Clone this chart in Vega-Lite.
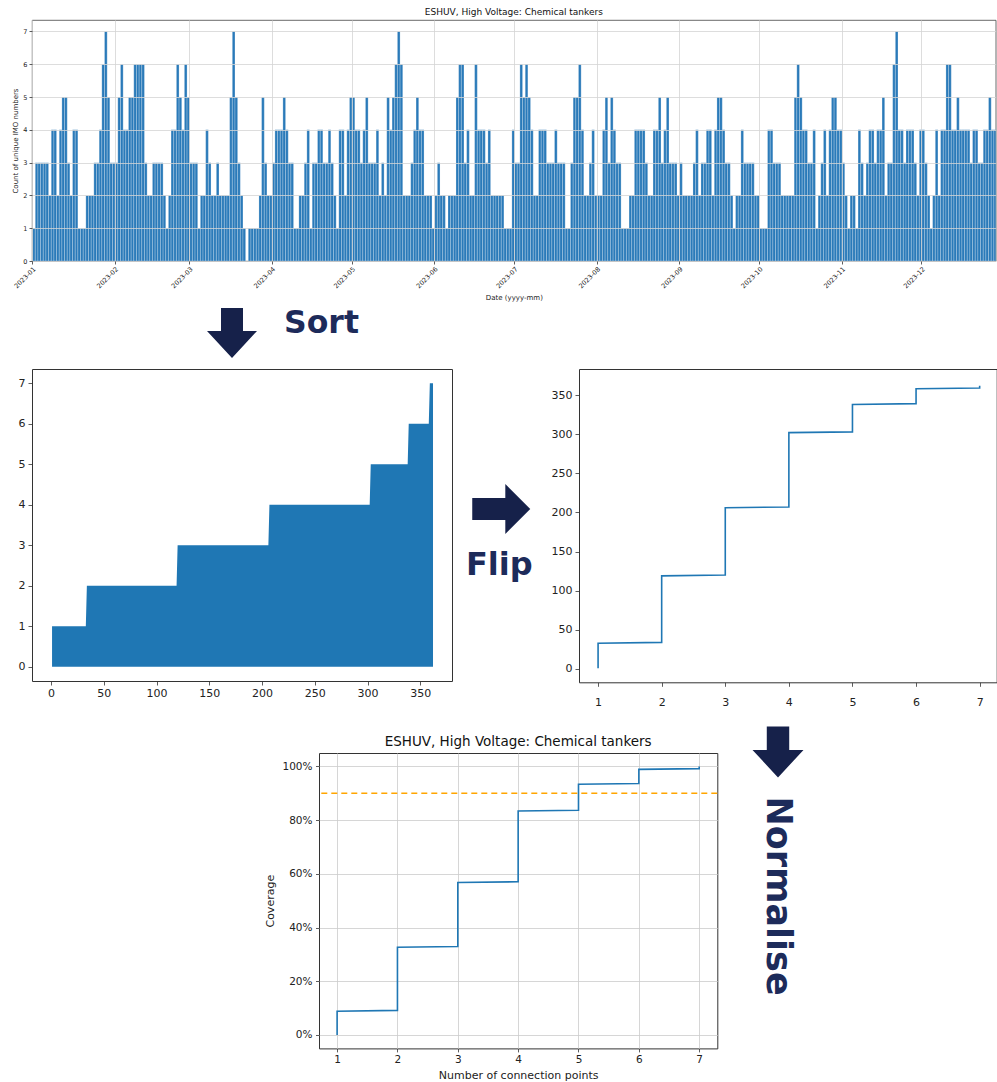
{
"$schema": "https://vega.github.io/schema/vega-lite/v6.json",
"background": "white",
"padding": {"left": 11, "top": 7, "right": 0, "bottom": 0},
"spacing": 0,
"datasets": {"daily": [
{"date":"2023-01-01","n":1},{"date":"2023-01-02","n":3},{"date":"2023-01-03","n":3},{"date":"2023-01-04","n":3},{"date":"2023-01-05","n":3},{"date":"2023-01-06","n":3},{"date":"2023-01-07","n":2},{"date":"2023-01-08","n":4},{"date":"2023-01-09","n":4},{"date":"2023-01-10","n":2},{"date":"2023-01-11","n":4},{"date":"2023-01-12","n":5},{"date":"2023-01-13","n":5},{"date":"2023-01-14","n":3},{"date":"2023-01-15","n":2},{"date":"2023-01-16","n":4},{"date":"2023-01-17","n":4},{"date":"2023-01-18","n":1},{"date":"2023-01-19","n":1},{"date":"2023-01-20","n":1},{"date":"2023-01-21","n":2},{"date":"2023-01-22","n":2},{"date":"2023-01-23","n":2},{"date":"2023-01-24","n":3},{"date":"2023-01-25","n":3},{"date":"2023-01-26","n":4},{"date":"2023-01-27","n":6},{"date":"2023-01-28","n":7},{"date":"2023-01-29","n":5},{"date":"2023-01-30","n":3},{"date":"2023-01-31","n":3},
{"date":"2023-02-01","n":3},{"date":"2023-02-02","n":5},{"date":"2023-02-03","n":6},{"date":"2023-02-04","n":4},{"date":"2023-02-05","n":4},{"date":"2023-02-06","n":5},{"date":"2023-02-07","n":5},{"date":"2023-02-08","n":6},{"date":"2023-02-09","n":6},{"date":"2023-02-10","n":6},{"date":"2023-02-11","n":6},{"date":"2023-02-12","n":3},{"date":"2023-02-13","n":2},{"date":"2023-02-14","n":2},{"date":"2023-02-15","n":3},{"date":"2023-02-16","n":3},{"date":"2023-02-17","n":3},{"date":"2023-02-18","n":3},{"date":"2023-02-19","n":2},{"date":"2023-02-20","n":1},{"date":"2023-02-21","n":2},{"date":"2023-02-22","n":4},{"date":"2023-02-23","n":4},{"date":"2023-02-24","n":6},{"date":"2023-02-25","n":5},{"date":"2023-02-26","n":4},{"date":"2023-02-27","n":6},{"date":"2023-02-28","n":5},
{"date":"2023-03-01","n":3},{"date":"2023-03-02","n":3},{"date":"2023-03-03","n":3},{"date":"2023-03-04","n":1},{"date":"2023-03-05","n":2},{"date":"2023-03-06","n":2},{"date":"2023-03-07","n":4},{"date":"2023-03-08","n":3},{"date":"2023-03-09","n":2},{"date":"2023-03-10","n":2},{"date":"2023-03-11","n":3},{"date":"2023-03-12","n":2},{"date":"2023-03-13","n":2},{"date":"2023-03-14","n":2},{"date":"2023-03-15","n":2},{"date":"2023-03-16","n":5},{"date":"2023-03-17","n":7},{"date":"2023-03-18","n":5},{"date":"2023-03-19","n":3},{"date":"2023-03-20","n":2},{"date":"2023-03-21","n":1},{"date":"2023-03-23","n":1},{"date":"2023-03-24","n":1},{"date":"2023-03-25","n":1},{"date":"2023-03-26","n":1},{"date":"2023-03-27","n":2},{"date":"2023-03-28","n":5},{"date":"2023-03-29","n":3},{"date":"2023-03-30","n":2},{"date":"2023-03-31","n":2},
{"date":"2023-04-01","n":3},{"date":"2023-04-02","n":4},{"date":"2023-04-03","n":4},{"date":"2023-04-04","n":4},{"date":"2023-04-05","n":5},{"date":"2023-04-06","n":4},{"date":"2023-04-07","n":3},{"date":"2023-04-08","n":3},{"date":"2023-04-09","n":1},{"date":"2023-04-10","n":1},{"date":"2023-04-11","n":2},{"date":"2023-04-12","n":2},{"date":"2023-04-13","n":3},{"date":"2023-04-14","n":4},{"date":"2023-04-15","n":1},{"date":"2023-04-16","n":3},{"date":"2023-04-17","n":3},{"date":"2023-04-18","n":4},{"date":"2023-04-19","n":4},{"date":"2023-04-20","n":3},{"date":"2023-04-21","n":3},{"date":"2023-04-22","n":4},{"date":"2023-04-23","n":3},{"date":"2023-04-24","n":2},{"date":"2023-04-25","n":1},{"date":"2023-04-26","n":4},{"date":"2023-04-27","n":4},{"date":"2023-04-28","n":2},{"date":"2023-04-29","n":4},{"date":"2023-04-30","n":5},
{"date":"2023-05-01","n":5},{"date":"2023-05-02","n":4},{"date":"2023-05-03","n":4},{"date":"2023-05-04","n":3},{"date":"2023-05-05","n":4},{"date":"2023-05-06","n":5},{"date":"2023-05-07","n":3},{"date":"2023-05-08","n":3},{"date":"2023-05-09","n":3},{"date":"2023-05-10","n":4},{"date":"2023-05-11","n":2},{"date":"2023-05-12","n":3},{"date":"2023-05-13","n":2},{"date":"2023-05-14","n":5},{"date":"2023-05-15","n":4},{"date":"2023-05-16","n":5},{"date":"2023-05-17","n":6},{"date":"2023-05-18","n":7},{"date":"2023-05-19","n":6},{"date":"2023-05-20","n":2},{"date":"2023-05-21","n":2},{"date":"2023-05-22","n":2},{"date":"2023-05-23","n":3},{"date":"2023-05-24","n":4},{"date":"2023-05-25","n":5},{"date":"2023-05-26","n":4},{"date":"2023-05-27","n":4},{"date":"2023-05-28","n":2},{"date":"2023-05-29","n":2},{"date":"2023-05-30","n":2},{"date":"2023-05-31","n":1},
{"date":"2023-06-01","n":2},{"date":"2023-06-02","n":3},{"date":"2023-06-03","n":2},{"date":"2023-06-04","n":2},{"date":"2023-06-05","n":1},{"date":"2023-06-06","n":2},{"date":"2023-06-07","n":2},{"date":"2023-06-08","n":2},{"date":"2023-06-09","n":5},{"date":"2023-06-10","n":6},{"date":"2023-06-11","n":6},{"date":"2023-06-12","n":3},{"date":"2023-06-13","n":4},{"date":"2023-06-14","n":2},{"date":"2023-06-15","n":2},{"date":"2023-06-16","n":6},{"date":"2023-06-17","n":4},{"date":"2023-06-18","n":4},{"date":"2023-06-19","n":4},{"date":"2023-06-20","n":3},{"date":"2023-06-21","n":4},{"date":"2023-06-22","n":2},{"date":"2023-06-23","n":2},{"date":"2023-06-24","n":2},{"date":"2023-06-25","n":2},{"date":"2023-06-26","n":2},{"date":"2023-06-27","n":1},{"date":"2023-06-28","n":1},{"date":"2023-06-29","n":1},{"date":"2023-06-30","n":4},
{"date":"2023-07-01","n":3},{"date":"2023-07-02","n":3},{"date":"2023-07-03","n":6},{"date":"2023-07-04","n":5},{"date":"2023-07-05","n":6},{"date":"2023-07-06","n":5},{"date":"2023-07-07","n":4},{"date":"2023-07-08","n":2},{"date":"2023-07-09","n":2},{"date":"2023-07-10","n":4},{"date":"2023-07-11","n":4},{"date":"2023-07-12","n":4},{"date":"2023-07-13","n":3},{"date":"2023-07-14","n":3},{"date":"2023-07-15","n":3},{"date":"2023-07-16","n":4},{"date":"2023-07-17","n":3},{"date":"2023-07-18","n":3},{"date":"2023-07-19","n":3},{"date":"2023-07-20","n":1},{"date":"2023-07-21","n":1},{"date":"2023-07-22","n":3},{"date":"2023-07-23","n":5},{"date":"2023-07-24","n":5},{"date":"2023-07-25","n":6},{"date":"2023-07-26","n":4},{"date":"2023-07-27","n":2},{"date":"2023-07-28","n":2},{"date":"2023-07-29","n":3},{"date":"2023-07-30","n":4},{"date":"2023-07-31","n":2},
{"date":"2023-08-01","n":2},{"date":"2023-08-02","n":2},{"date":"2023-08-03","n":4},{"date":"2023-08-04","n":5},{"date":"2023-08-05","n":3},{"date":"2023-08-06","n":5},{"date":"2023-08-07","n":4},{"date":"2023-08-08","n":3},{"date":"2023-08-09","n":3},{"date":"2023-08-10","n":1},{"date":"2023-08-11","n":1},{"date":"2023-08-12","n":1},{"date":"2023-08-13","n":2},{"date":"2023-08-14","n":2},{"date":"2023-08-15","n":4},{"date":"2023-08-16","n":4},{"date":"2023-08-17","n":4},{"date":"2023-08-18","n":4},{"date":"2023-08-19","n":3},{"date":"2023-08-20","n":2},{"date":"2023-08-21","n":2},{"date":"2023-08-22","n":4},{"date":"2023-08-23","n":4},{"date":"2023-08-24","n":5},{"date":"2023-08-25","n":3},{"date":"2023-08-26","n":4},{"date":"2023-08-27","n":5},{"date":"2023-08-28","n":3},{"date":"2023-08-29","n":3},{"date":"2023-08-30","n":3},{"date":"2023-08-31","n":2},
{"date":"2023-09-01","n":3},{"date":"2023-09-02","n":2},{"date":"2023-09-03","n":2},{"date":"2023-09-04","n":2},{"date":"2023-09-05","n":2},{"date":"2023-09-06","n":3},{"date":"2023-09-07","n":4},{"date":"2023-09-08","n":2},{"date":"2023-09-09","n":3},{"date":"2023-09-10","n":3},{"date":"2023-09-11","n":4},{"date":"2023-09-12","n":4},{"date":"2023-09-13","n":2},{"date":"2023-09-14","n":4},{"date":"2023-09-15","n":5},{"date":"2023-09-16","n":5},{"date":"2023-09-17","n":4},{"date":"2023-09-18","n":3},{"date":"2023-09-19","n":3},{"date":"2023-09-20","n":2},{"date":"2023-09-21","n":1},{"date":"2023-09-22","n":2},{"date":"2023-09-23","n":2},{"date":"2023-09-24","n":4},{"date":"2023-09-25","n":3},{"date":"2023-09-26","n":3},{"date":"2023-09-27","n":3},{"date":"2023-09-28","n":3},{"date":"2023-09-29","n":2},{"date":"2023-09-30","n":2},
{"date":"2023-10-01","n":1},{"date":"2023-10-02","n":1},{"date":"2023-10-03","n":1},{"date":"2023-10-04","n":4},{"date":"2023-10-05","n":4},{"date":"2023-10-06","n":3},{"date":"2023-10-07","n":3},{"date":"2023-10-08","n":3},{"date":"2023-10-09","n":2},{"date":"2023-10-10","n":2},{"date":"2023-10-11","n":2},{"date":"2023-10-12","n":2},{"date":"2023-10-13","n":2},{"date":"2023-10-14","n":5},{"date":"2023-10-15","n":6},{"date":"2023-10-16","n":5},{"date":"2023-10-17","n":4},{"date":"2023-10-18","n":4},{"date":"2023-10-19","n":3},{"date":"2023-10-20","n":3},{"date":"2023-10-21","n":4},{"date":"2023-10-22","n":1},{"date":"2023-10-23","n":2},{"date":"2023-10-24","n":3},{"date":"2023-10-25","n":4},{"date":"2023-10-26","n":2},{"date":"2023-10-27","n":4},{"date":"2023-10-28","n":5},{"date":"2023-10-29","n":5},{"date":"2023-10-30","n":4},{"date":"2023-10-31","n":4},
{"date":"2023-11-01","n":3},{"date":"2023-11-02","n":2},{"date":"2023-11-03","n":1},{"date":"2023-11-04","n":2},{"date":"2023-11-05","n":2},{"date":"2023-11-06","n":1},{"date":"2023-11-07","n":4},{"date":"2023-11-08","n":3},{"date":"2023-11-09","n":2},{"date":"2023-11-10","n":3},{"date":"2023-11-11","n":4},{"date":"2023-11-12","n":4},{"date":"2023-11-13","n":3},{"date":"2023-11-14","n":4},{"date":"2023-11-15","n":4},{"date":"2023-11-16","n":5},{"date":"2023-11-17","n":2},{"date":"2023-11-18","n":3},{"date":"2023-11-19","n":3},{"date":"2023-11-20","n":6},{"date":"2023-11-21","n":7},{"date":"2023-11-22","n":4},{"date":"2023-11-23","n":4},{"date":"2023-11-24","n":3},{"date":"2023-11-25","n":4},{"date":"2023-11-26","n":4},{"date":"2023-11-27","n":4},{"date":"2023-11-28","n":3},{"date":"2023-11-29","n":2},{"date":"2023-11-30","n":4},
{"date":"2023-12-01","n":4},{"date":"2023-12-02","n":3},{"date":"2023-12-03","n":2},{"date":"2023-12-04","n":1},{"date":"2023-12-05","n":2},{"date":"2023-12-06","n":4},{"date":"2023-12-07","n":2},{"date":"2023-12-08","n":4},{"date":"2023-12-09","n":4},{"date":"2023-12-10","n":6},{"date":"2023-12-11","n":6},{"date":"2023-12-12","n":4},{"date":"2023-12-13","n":4},{"date":"2023-12-14","n":5},{"date":"2023-12-15","n":4},{"date":"2023-12-16","n":4},{"date":"2023-12-17","n":4},{"date":"2023-12-18","n":4},{"date":"2023-12-19","n":3},{"date":"2023-12-20","n":4},{"date":"2023-12-21","n":4},{"date":"2023-12-22","n":3},{"date":"2023-12-23","n":3},{"date":"2023-12-24","n":4},{"date":"2023-12-25","n":4},{"date":"2023-12-26","n":5},{"date":"2023-12-27","n":4},{"date":"2023-12-28","n":4},{"date":"2023-12-29","n":4}
]},
"vconcat": [
 {
  "width": 963.7, "height": 241,
  "title": {"text": "ESHUV, High Voltage: Chemical tankers", "fontSize": 9, "offset": 3.5},
  "data": {"name": "daily"},
  "view": {"stroke": "#444444", "strokeWidth": 0.8},
  "mark": {"type": "bar", "color": "#2a7ab9", "binSpacing": 0, "stroke": "#ffffff", "strokeWidth": 0.3, "strokeOpacity": 0.8, "clip": true},
  "encoding": {
   "x": {"field": "date", "type": "temporal", "timeUnit": "utcyearmonthdate", "title": "Date (yyyy-mm)",
    "scale": {"domain": [{"year": 2022, "month": 12, "date": 31, "hours": 23, "utc": true}, {"year": 2023, "month": 12, "date": 28, "hours": 21, "utc": true}]},
    "axis": {"format": "%Y-%m", "tickCount": {"interval": "month", "step": 1}, "labelAngle": -45, "labelFontSize": 6.5, "titleFontSize": 7, "tickSize": 3, "labelPadding": 1.5, "titlePadding": 4, "grid": true, "gridColor": "#d4d4d4", "gridWidth": 0.8, "zindex": 1}},
   "y": {"field": "n", "type": "quantitative", "title": "Count of unique IMO numbers",
    "scale": {"domain": [0, 7.35], "nice": false},
    "axis": {"values": [0,1,2,3,4,5,6,7], "labelFontSize": 6.5, "titleFontSize": 7, "tickSize": 3, "labelPadding": 2, "titlePadding": 4, "grid": true, "gridColor": "#d4d4d4", "gridWidth": 0.8, "zindex": 1}}
  }
 },
 {"width": 10, "height": 6, "data": {"values": []}, "mark": "point"},
 {"hconcat": [
  {"width": 174, "height": 52, "data": {"values": []}, "mark": "point"},
  {"width": 52, "height": 52, "data": {"values": [{"step": "Sort"}]}, "mark": {"type": "point", "shape": "M-0.44,-1L0.44,-1L0.44,-0.08L1,-0.08L0,1L-1,-0.08L-0.44,-0.08Z", "size": 2500, "filled": true, "color": "#16214a", "opacity": 1}},
  {"width": 127, "height": 52, "data": {"values": [{"step": "Sort"}]}, "mark": {"type": "text", "font": "DejaVu Sans", "fontWeight": "bold", "fontSize": 31.5, "color": "#1d2b5a", "dy": -9}, "encoding": {"text": {"field": "step"}}}
 ], "spacing": 0},
 {"width": 10, "height": 8.5, "data": {"values": []}, "mark": "point"},
 {"hconcat": [
  {
   "width": 420, "height": 312,
   "data": {"name": "daily"},
   "transform": [{"window": [{"op": "row_number", "as": "idx"}], "sort": [{"field": "n"}, {"field": "date"}]}],
   "view": {"stroke": "#333333"},
   "mark": {"type": "area", "color": "#1f77b4", "clip": true},
   "encoding": {
    "x": {"field": "idx", "type": "quantitative", "title": null, "scale": {"domain": [-18, 380], "nice": false, "zero": false}, "axis": {"values": [0,50,100,150,200,250,300,350], "labelFontSize": 11, "tickSize": 4, "labelPadding": 2.5}},
    "y": {"field": "n", "type": "quantitative", "title": null, "scale": {"domain": [-0.35, 7.35], "nice": false, "zero": false}, "axis": {"values": [0,1,2,3,4,5,6,7], "labelFontSize": 11, "tickSize": 4, "labelPadding": 3}},
    "y2": {"datum": 0}
   }
  },
  {"vconcat": [
   {"width": 96.5, "height": 114, "data": {"values": []}, "mark": "point"},
   {"width": 96.5, "height": 52, "data": {"values": [{"step": "Flip"}]}, "mark": {"type": "point", "shape": "M-1,-0.38L0.14,-0.38L0.14,-0.86L1,0L0.14,0.86L0.14,0.38L-1,0.38Z", "size": 3364, "filled": true, "color": "#16214a", "opacity": 1}},
   {"width": 96.5, "height": 60, "data": {"values": [{"step": "Flip"}]}, "mark": {"type": "text", "font": "DejaVu Sans", "fontWeight": "bold", "fontSize": 32, "color": "#1d2b5a", "dx": -2}, "encoding": {"text": {"field": "step"}}}
  ], "spacing": 0},
  {
   "width": 417.7, "height": 313.3,
   "data": {"name": "daily"},
   "transform": [{"window": [{"op": "row_number", "as": "idx"}], "sort": [{"field": "n"}, {"field": "date"}]}],
   "view": {"stroke": "#333333"},
   "mark": {"type": "line", "color": "#1f77b4", "strokeWidth": 1.6},
   "encoding": {
    "x": {"field": "n", "type": "quantitative", "title": null, "scale": {"domain": [0.7, 7.268], "nice": false, "zero": false}, "axis": {"values": [1,2,3,4,5,6,7], "labelFontSize": 11, "tickSize": 4, "labelPadding": 10}},
    "y": {"field": "idx", "type": "quantitative", "title": null, "scale": {"domain": [-17, 383.3], "nice": false, "zero": false}, "axis": {"values": [0,50,100,150,200,250,300,350], "labelFontSize": 11, "tickSize": 4, "labelPadding": 3}},
    "order": {"field": "idx", "type": "quantitative"}
   }
  }
 ], "spacing": 0},
 {"width": 10, "height": 17, "data": {"values": []}, "mark": "point"},
 {"hconcat": [
  {"width": 231.7, "height": 10, "data": {"values": []}, "mark": "point"},
  {"vconcat": [
   {"width": 1, "height": 9, "data": {"values": []}, "mark": "point"},
   {
    "width": 398.3, "height": 295.4,
    "title": {"text": "ESHUV, High Voltage: Chemical tankers", "fontSize": 13.5, "offset": 5},
    "view": {"stroke": "#333333"},
    "layer": [
     {
      "data": {"name": "daily"},
      "transform": [{"window": [{"op": "percent_rank", "as": "cov"}], "sort": [{"field": "n"}, {"field": "date"}]}],
      "mark": {"type": "line", "color": "#1f77b4", "strokeWidth": 1.6},
      "encoding": {
       "x": {"field": "n", "type": "quantitative", "title": "Number of connection points", "scale": {"domain": [0.7, 7.3], "nice": false, "zero": false}, "axis": {"values": [1,2,3,4,5,6,7], "grid": true, "gridColor": "#cccccc", "gridWidth": 0.8, "labelFontSize": 10.5, "titleFontSize": 11, "tickSize": 3.5, "labelPadding": 3, "titlePadding": 4}},
       "y": {"field": "cov", "type": "quantitative", "title": "Coverage", "scale": {"domain": [-0.05, 1.05], "nice": false, "zero": false}, "axis": {"values": [0,0.2,0.4,0.6,0.8,1], "format": ".0%", "grid": true, "gridColor": "#cccccc", "gridWidth": 0.8, "labelFontSize": 10.5, "titleFontSize": 11, "tickSize": 3.5, "labelPadding": 3.5, "titlePadding": 6}},
       "order": {"field": "cov", "type": "quantitative"}
      }
     },
     {
      "data": {"values": [{"target": 0.9}]},
      "mark": {"type": "rule", "color": "#ffa500", "strokeWidth": 1.5, "strokeDash": [6, 4]},
      "encoding": {"y": {"field": "target", "type": "quantitative", "title": "Coverage"}}
     }
    ]
   }
  ], "spacing": 0},
  {"vconcat": [
   {"width": 118, "height": 54, "data": {"values": [{"step": "Normalise"}]}, "mark": {"type": "point", "shape": "M-0.44,-1L0.44,-1L0.44,-0.08L1,-0.08L0,1L-1,-0.08L-0.44,-0.08Z", "size": 2600, "filled": true, "color": "#16214a", "opacity": 1}},
   {"width": 118, "height": 234, "data": {"values": [{"step": "Normalise"}]}, "mark": {"type": "text", "font": "DejaVu Sans", "fontWeight": "bold", "fontSize": 35, "color": "#1d2b5a", "angle": 90}, "encoding": {"text": {"field": "step"}}}
  ], "spacing": 0}
 ], "spacing": 0}
],
"config": {
 "view": {"stroke": null},
 "font": "DejaVu Sans",
 "title": {"font": "DejaVu Sans", "fontWeight": "normal", "color": "#111111", "anchor": "middle"},
 "axis": {"labelFont": "DejaVu Sans", "titleFont": "DejaVu Sans", "labelColor": "#222222", "titleColor": "#222222", "titleFontWeight": "normal", "tickColor": "#333333", "tickWidth": 0.8, "domain": false, "grid": false, "labelFlush": false, "labelOverlap": false}
}
}
